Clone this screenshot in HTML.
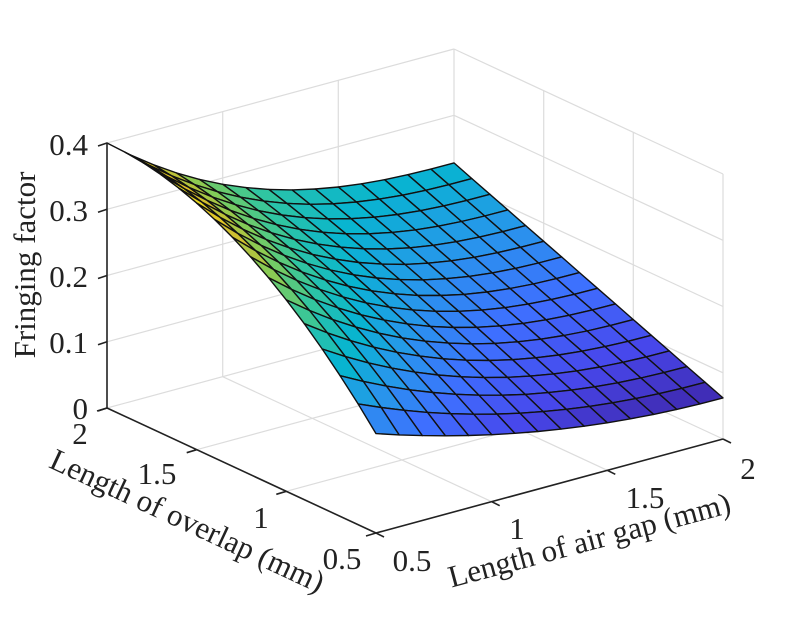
<!DOCTYPE html>
<html><head><meta charset="utf-8"><style>
html,body{margin:0;padding:0;background:#fff;}
svg{display:block;}
</style></head><body>
<svg id="s" width="799" height="626" viewBox="0 0 799 626" xmlns="http://www.w3.org/2000/svg">
<g id="grid" stroke="#dcdcdc" stroke-width="1.2" fill="none"></g>
<g id="surf" stroke="#111" stroke-width="1.4" stroke-linejoin="round"></g>
<g id="axes" stroke="#222" stroke-width="1.6" fill="none"></g>
<g font-size="31" font-family="'Liberation Serif', 'Times New Roman', serif" fill="#222">
<text x="88" y="155" text-anchor="end">0.4</text>
<text x="88" y="221" text-anchor="end">0.3</text>
<text x="88" y="287" text-anchor="end">0.2</text>
<text x="88" y="353" text-anchor="end">0.1</text>
<text x="88" y="419" text-anchor="end">0</text>
<text x="80" y="444" text-anchor="middle">2</text>
<text x="157" y="484" text-anchor="middle">1.5</text>
<text x="261" y="528" text-anchor="middle">1</text>
<text x="342" y="569" text-anchor="middle">0.5</text>
<text x="412" y="571" text-anchor="middle">0.5</text>
<text x="517" y="539" text-anchor="middle">1</text>
<text x="645" y="508" text-anchor="middle">1.5</text>
<text x="748" y="479" text-anchor="middle">2</text>
<text transform="translate(35,265) rotate(-90)" text-anchor="middle">Fringing factor</text>
<text transform="translate(183,530) rotate(25)" text-anchor="middle">Length of overlap (mm)</text>
<text transform="translate(592,550) rotate(-15)" text-anchor="middle">Length of air gap (mm)</text>
</g>
</svg>
<script>
var NS="http://www.w3.org/2000/svg";
function P(u,v,z){return [376+u*347-v*269, 533-u*94-v*125-z*662.5];}
function el(g,t,a){var e=document.createElementNS(NS,t);for(var k in a)e.setAttribute(k,a[k]);document.getElementById(g).appendChild(e);return e;}
function line(g,a,b){el(g,"line",{x1:a[0].toFixed(1),y1:a[1].toFixed(1),x2:b[0].toFixed(1),y2:b[1].toFixed(1)});}
[1/3,2/3].forEach(function(u){line("grid",P(u,0,0),P(u,1,0));line("grid",P(u,1,0),P(u,1,0.4));});
[1/3,2/3].forEach(function(v){line("grid",P(0,v,0),P(1,v,0));line("grid",P(1,v,0),P(1,v,0.4));});
[0.1,0.2,0.3,0.4].forEach(function(z){line("grid",P(0,1,z),P(1,1,z));line("grid",P(1,1,z),P(1,0,z));});
line("grid",P(1,1,0),P(1,1,0.4));line("grid",P(1,0,0),P(1,0,0.4));
line("grid",P(0,1,0),P(1,1,0));line("grid",P(1,1,0),P(1,0,0));
function Z(u,v){var F=0.062+0.088*Math.pow(1-u,2);var B=0.228+0.172*Math.pow(1-u,2.5);
 return F*(1-v)+B*v+0.25*v*(1-v)*Math.pow(1-u,2.5);}
var par=[[0.2422,0.1504,0.6603],[0.2803,0.2782,0.9221],[0.2440,0.4358,0.9988],[0.1540,0.5902,0.9218],[0.0297,0.7082,0.8163],[0.1938,0.7758,0.6251],[0.5044,0.7993,0.3480],[0.8634,0.7406,0.1596],[0.9769,0.9839,0.0805]];
function col(t){t=Math.max(0,Math.min(1,t))*8;var i=Math.min(7,Math.floor(t)),f=t-i;var c=par[i].map(function(a,k){return Math.round(255*(a+(par[i+1][k]-a)*f));});return "rgb("+c.join(",")+")";}
var N=15,zmin=Z(1,0),zmax=Z(0,1),faces=[];
for(var i=0;i<N;i++)for(var j=0;j<N;j++){var u0=i/N,u1=(i+1)/N,v0=j/N,v1=(j+1)/N;
 faces.push({d:u0+v0,pts:[P(u0,v0,Z(u0,v0)),P(u1,v0,Z(u1,v0)),P(u1,v1,Z(u1,v1)),P(u0,v1,Z(u0,v1))],z:Math.max(Z(u0,v0),Z(u1,v0),Z(u1,v1),Z(u0,v1))*0.6+0.4*(Z(u0,v0)+Z(u1,v0)+Z(u1,v1)+Z(u0,v1))/4});}
faces.sort(function(a,b){return b.d-a.d;});
faces.forEach(function(f){el("surf","polygon",{points:f.pts.map(function(p){return p[0].toFixed(1)+","+p[1].toFixed(1);}).join(" "),fill:col((f.z-zmin)/(zmax-zmin))});});
line("axes",P(0,1,0),P(0,1,0.4));
line("axes",P(0,1,0),P(0,0,0));
line("axes",P(0,0,0),P(1,0,0));
[0,0.1,0.2,0.3,0.4].forEach(function(z){var a=P(0,1,z);line("axes",a,[a[0]-9,a[1]+3]);});
[0,1/3,2/3,1].forEach(function(v){var a=P(0,v,0);line("axes",a,[a[0]-10,a[1]+3]);});
[0,1/3,2/3,1].forEach(function(u){var a=P(u,0,0);line("axes",a,[a[0]+8,a[1]+4]);});
</script>
</body></html>
